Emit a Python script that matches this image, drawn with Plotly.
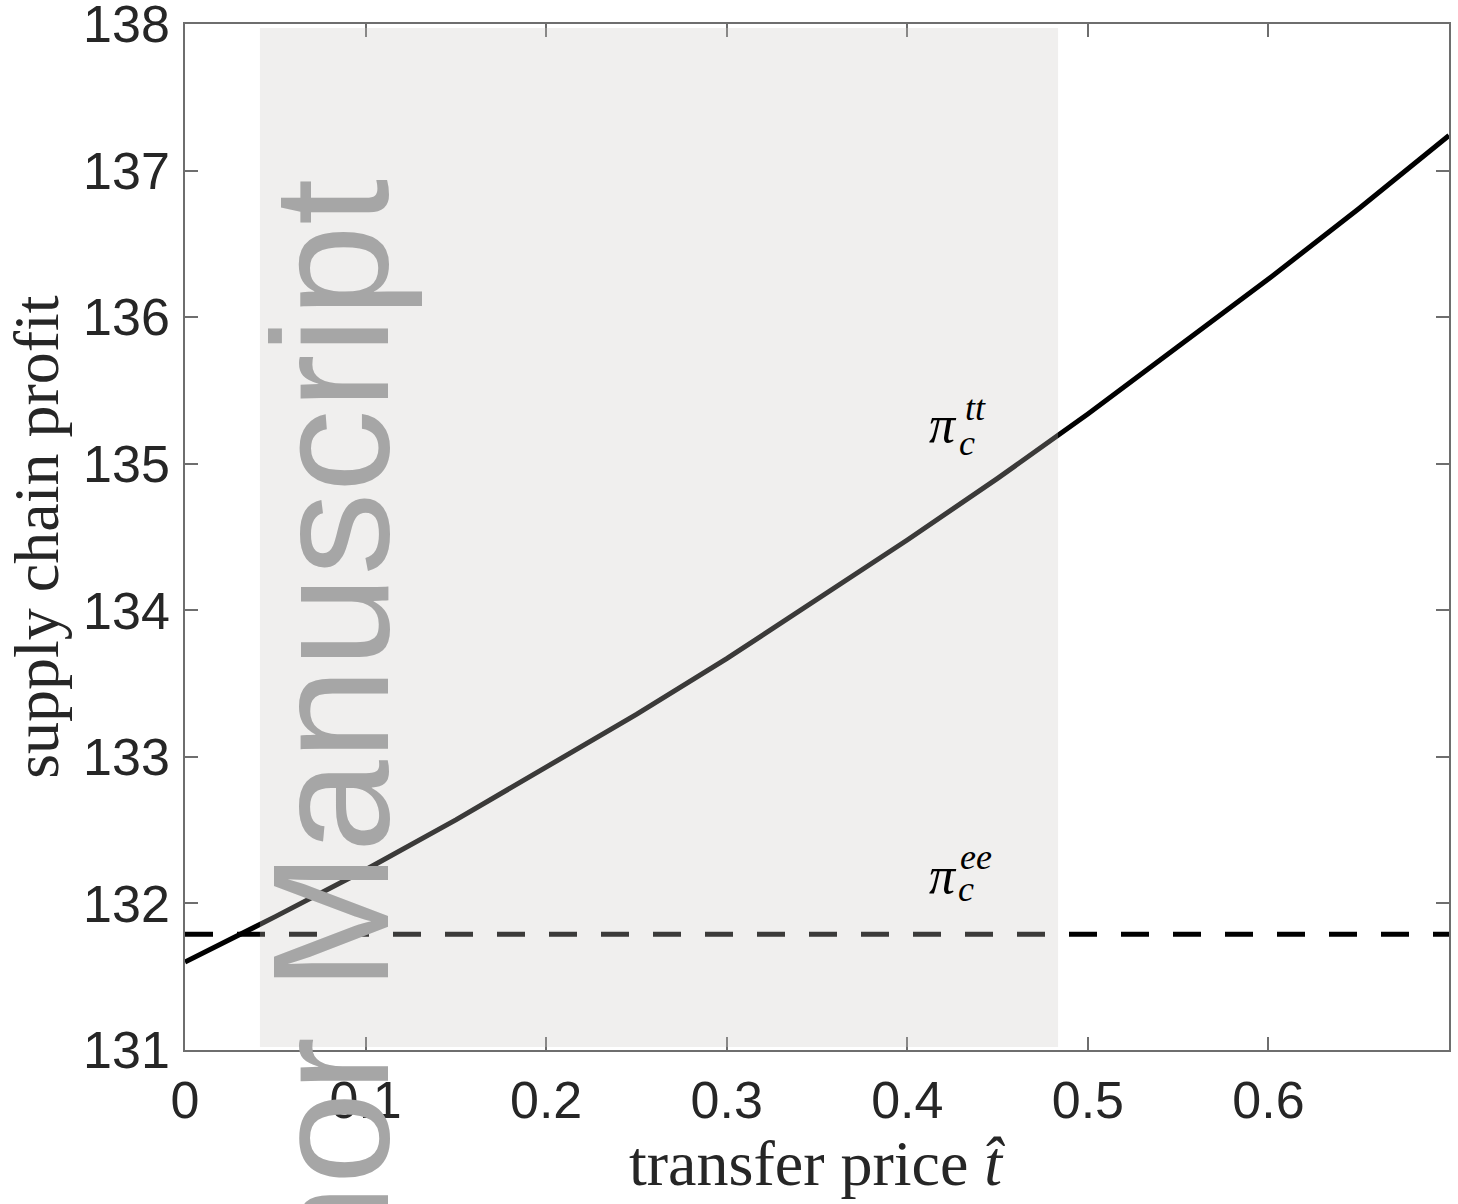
import plotly.graph_objects as go

# ---- data ----
t_hat = [0.0, 0.05, 0.10, 0.15, 0.20, 0.25, 0.30, 0.35, 0.40, 0.45, 0.50, 0.55, 0.60, 0.65, 0.70]
pi_tt = [131.60, 131.91, 132.23, 132.57, 132.93, 133.29, 133.67, 134.07, 134.48, 134.90,
         135.34, 135.80, 136.26, 136.74, 137.24]
pi_ee_level = 131.79
x_ticks = [0, 0.1, 0.2, 0.3, 0.4, 0.5, 0.6]
x_tick_text = ["0", "0.1", "0.2", "0.3", "0.4", "0.5", "0.6"]
y_ticks = [131, 132, 133, 134, 135, 136, 137, 138]
y_tick_text = ["131", "132", "133", "134", "135", "136", "137", "138"]

W, H = 1458, 1204
ML, MR, MT, MB = 185, 9, 24, 154

fig = go.Figure()
fig.add_trace(go.Scatter(x=t_hat, y=pi_tt, mode="lines",
                         line=dict(color="black", width=5), showlegend=False))
fig.add_trace(go.Scatter(x=[t_hat[0], t_hat[-1]], y=[pi_ee_level, pi_ee_level], mode="lines",
                         line=dict(color="black", width=5, dash="28px,24px"), showlegend=False))

# translucent watermark panel
fig.add_shape(type="rect", xref="x", yref="y", x0=0.0415, x1=0.4835, y0=131.02, y1=137.973,
              fillcolor="rgba(203,200,195,0.29)", line=dict(width=0), layer="above")

serif = "Liberation Serif"
tick_font = dict(family="Liberation Sans, Arial", size=52, color="#262626")
axis_common = dict(showline=True, linecolor="#6e6e6e", linewidth=1.5, mirror="ticks",
                   ticks="inside", ticklen=13, tickwidth=1.5, tickcolor="#6e6e6e",
                   showgrid=False, zeroline=False, tickfont=tick_font,
                   ticklabeloverflow="allow", automargin=False)

fig.update_xaxes(range=[0, 0.7], tickvals=x_ticks, ticktext=x_tick_text,
                 ticklabelstandoff=4, **axis_common)
fig.update_yaxes(range=[131, 138.0005], tickvals=y_ticks, ticktext=y_tick_text,
                 ticklabelstandoff=3, **axis_common)

ann = []
# watermark text
ann.append(dict(text="Author Manuscript", xref="paper", yref="paper", x=0.1155, y=0.193,
                xanchor="center", yanchor="middle", textangle=-90, showarrow=False,
                font=dict(family="Liberation Sans, Arial", size=166, color="#a6a6a6")))
# axis titles
ann.append(dict(text="transfer price <i>t̂</i>", xref="paper", yref="paper", x=0.5, y=-0.111,
                xanchor="center", yanchor="middle", showarrow=False,
                font=dict(family=serif, size=64, color="#262626")))
ann.append(dict(text="supply chain profit", xref="paper", yref="paper", x=-0.118, y=0.5,
                xanchor="center", yanchor="middle", textangle=-90, showarrow=False,
                font=dict(family=serif, size=64, color="#262626")))
# curve labels
for (px, py), (cx, cy), (sx, sy), sup in [((0.4198, 135.27), (0.4331, 135.14), (0.4375, 135.38), "tt"),
                                          ((0.4198, 132.19), (0.4325, 132.10), (0.4380, 132.32), "ee")]:
    ann.append(dict(text="<i>π</i>", x=px, y=py, xref="x", yref="y", showarrow=False,
                    xanchor="center", yanchor="middle", font=dict(family=serif, size=52, color="black")))
    ann.append(dict(text="<i>c</i>", x=cx, y=cy, xref="x", yref="y", showarrow=False,
                    xanchor="center", yanchor="middle", font=dict(family=serif, size=36, color="black")))
    ann.append(dict(text=f"<i>{sup}</i>", x=sx, y=sy, xref="x", yref="y", showarrow=False,
                    xanchor="center", yanchor="middle", font=dict(family=serif, size=36, color="black")))

fig.update_layout(width=W, height=H, margin=dict(l=ML, r=MR, t=MT, b=MB, autoexpand=False),
                  paper_bgcolor="white", plot_bgcolor="white", annotations=ann)

fig.write_html("out.html")
